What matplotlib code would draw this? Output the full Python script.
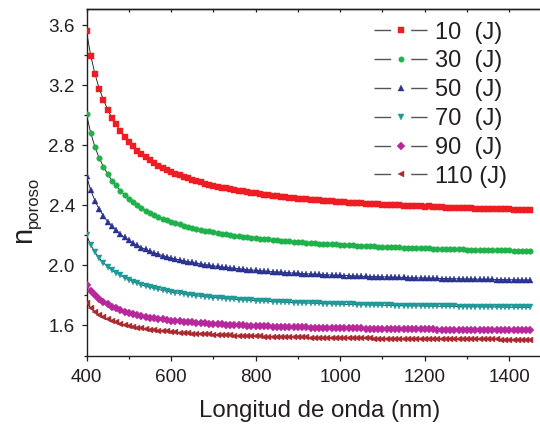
import matplotlib
matplotlib.use("Agg")
import matplotlib.pyplot as plt
from matplotlib.lines import Line2D
from matplotlib.ticker import MultipleLocator

plt.rcParams['font.family'] = ['Liberation Sans', 'DejaVu Sans']

# Wavelength grid (nm), sampled every 10 nm
wavelength = list(range(400, 1460, 10))

n_10J = [3.560, 3.398, 3.277, 3.179, 3.105, 3.039, 2.983, 2.940, 2.896, 2.857,
         2.823, 2.793, 2.766, 2.742, 2.720, 2.700, 2.682, 2.665, 2.650, 2.636,
         2.623, 2.611, 2.600, 2.589, 2.580, 2.570, 2.562, 2.554, 2.546, 2.539,
         2.532, 2.526, 2.519, 2.514, 2.508, 2.503, 2.498, 2.493, 2.489, 2.484,
         2.480, 2.476, 2.472, 2.468, 2.465, 2.462, 2.458, 2.455, 2.452, 2.449,
         2.446, 2.444, 2.441, 2.438, 2.436, 2.434, 2.431, 2.429, 2.427, 2.425,
         2.423, 2.421, 2.419, 2.417, 2.415, 2.413, 2.412, 2.410, 2.408, 2.407,
         2.405, 2.404, 2.402, 2.401, 2.400, 2.398, 2.397, 2.396, 2.394, 2.393,
         2.392, 2.397, 2.390, 2.388, 2.387, 2.386, 2.385, 2.384, 2.383, 2.382,
         2.381, 2.380, 2.379, 2.378, 2.378, 2.377, 2.376, 2.375, 2.374, 2.373,
         2.373, 2.372, 2.371, 2.370, 2.370, 2.369]

n_30J = [3.006, 2.883, 2.790, 2.715, 2.659, 2.609, 2.566, 2.533, 2.499, 2.470,
         2.444, 2.421, 2.400, 2.382, 2.365, 2.350, 2.336, 2.323, 2.312, 2.301,
         2.291, 2.282, 2.273, 2.265, 2.258, 2.251, 2.244, 2.238, 2.232, 2.227,
         2.222, 2.217, 2.212, 2.208, 2.203, 2.199, 2.196, 2.192, 2.188, 2.185,
         2.182, 2.179, 2.176, 2.173, 2.170, 2.168, 2.165, 2.163, 2.161, 2.158,
         2.156, 2.154, 2.152, 2.150, 2.148, 2.146, 2.145, 2.143, 2.141, 2.140,
         2.138, 2.137, 2.135, 2.134, 2.132, 2.131, 2.130, 2.128, 2.127, 2.126,
         2.125, 2.124, 2.123, 2.121, 2.120, 2.119, 2.118, 2.117, 2.116, 2.115,
         2.115, 2.114, 2.113, 2.112, 2.111, 2.110, 2.109, 2.109, 2.108, 2.107,
         2.106, 2.106, 2.105, 2.104, 2.104, 2.103, 2.102, 2.102, 2.101, 2.100,
         2.100, 2.099, 2.099, 2.098, 2.098, 2.097]

n_50J = [2.596, 2.501, 2.431, 2.374, 2.331, 2.292, 2.260, 2.235, 2.209, 2.187,
         2.167, 2.149, 2.134, 2.119, 2.107, 2.095, 2.085, 2.075, 2.066, 2.058,
         2.050, 2.043, 2.037, 2.031, 2.025, 2.020, 2.015, 2.010, 2.006, 2.001,
         1.997, 1.994, 1.990, 1.987, 1.984, 1.980, 1.978, 1.975, 1.972, 1.970,
         1.967, 1.965, 1.963, 1.960, 1.958, 1.956, 1.955, 1.953, 1.951, 1.949,
         1.948, 1.946, 1.944, 1.943, 1.941, 1.940, 1.939, 1.937, 1.936, 1.935,
         1.934, 1.933, 1.932, 1.930, 1.929, 1.928, 1.927, 1.926, 1.926, 1.925,
         1.924, 1.923, 1.922, 1.921, 1.920, 1.920, 1.919, 1.918, 1.917, 1.917,
         1.916, 1.915, 1.915, 1.914, 1.913, 1.913, 1.912, 1.911, 1.911, 1.910,
         1.910, 1.909, 1.909, 1.908, 1.908, 1.907, 1.907, 1.906, 1.906, 1.905,
         1.905, 1.904, 1.904, 1.903, 1.903, 1.902]

n_70J = [2.202, 2.137, 2.088, 2.048, 2.018, 1.992, 1.969, 1.952, 1.934, 1.918,
         1.904, 1.892, 1.881, 1.871, 1.862, 1.854, 1.847, 1.840, 1.834, 1.828,
         1.823, 1.818, 1.814, 1.810, 1.806, 1.802, 1.798, 1.795, 1.792, 1.789,
         1.786, 1.784, 1.781, 1.779, 1.777, 1.775, 1.773, 1.771, 1.769, 1.767,
         1.765, 1.764, 1.762, 1.761, 1.759, 1.758, 1.757, 1.755, 1.754, 1.753,
         1.752, 1.751, 1.750, 1.749, 1.748, 1.747, 1.746, 1.745, 1.744, 1.743,
         1.742, 1.741, 1.741, 1.740, 1.739, 1.738, 1.738, 1.737, 1.736, 1.736,
         1.735, 1.734, 1.734, 1.733, 1.733, 1.732, 1.732, 1.731, 1.731, 1.730,
         1.730, 1.729, 1.729, 1.728, 1.728, 1.727, 1.727, 1.727, 1.726, 1.726,
         1.725, 1.725, 1.725, 1.724, 1.724, 1.724, 1.723, 1.723, 1.723, 1.722,
         1.722, 1.722, 1.721, 1.721, 1.721, 1.720]

n_90J = [1.873, 1.832, 1.801, 1.775, 1.757, 1.740, 1.725, 1.714, 1.703, 1.693,
         1.685, 1.677, 1.670, 1.664, 1.658, 1.653, 1.648, 1.644, 1.640, 1.637,
         1.633, 1.630, 1.627, 1.625, 1.622, 1.620, 1.618, 1.616, 1.614, 1.612,
         1.610, 1.609, 1.607, 1.605, 1.604, 1.603, 1.601, 1.600, 1.599, 1.598,
         1.597, 1.596, 1.595, 1.594, 1.593, 1.592, 1.591, 1.590, 1.590, 1.589,
         1.588, 1.587, 1.587, 1.586, 1.586, 1.585, 1.584, 1.584, 1.583, 1.583,
         1.582, 1.582, 1.581, 1.581, 1.580, 1.580, 1.579, 1.579, 1.579, 1.578,
         1.578, 1.577, 1.577, 1.577, 1.576, 1.576, 1.576, 1.575, 1.575, 1.575,
         1.574, 1.574, 1.574, 1.573, 1.573, 1.573, 1.573, 1.572, 1.572, 1.572,
         1.572, 1.571, 1.571, 1.571, 1.571, 1.570, 1.570, 1.570, 1.570, 1.570,
         1.569, 1.569, 1.569, 1.569, 1.569, 1.568]

n_110J = [1.748, 1.715, 1.691, 1.671, 1.656, 1.642, 1.631, 1.622, 1.613, 1.605,
          1.598, 1.592, 1.586, 1.581, 1.577, 1.573, 1.569, 1.566, 1.563, 1.560,
          1.557, 1.555, 1.552, 1.550, 1.548, 1.546, 1.545, 1.543, 1.541, 1.540,
          1.539, 1.537, 1.536, 1.535, 1.534, 1.533, 1.532, 1.531, 1.530, 1.529,
          1.528, 1.527, 1.526, 1.526, 1.525, 1.524, 1.524, 1.523, 1.522, 1.522,
          1.521, 1.521, 1.520, 1.519, 1.519, 1.518, 1.518, 1.518, 1.517, 1.517,
          1.516, 1.516, 1.515, 1.515, 1.515, 1.514, 1.514, 1.514, 1.513, 1.513,
          1.513, 1.512, 1.512, 1.512, 1.512, 1.511, 1.511, 1.511, 1.510, 1.510,
          1.510, 1.510, 1.510, 1.509, 1.509, 1.509, 1.509, 1.508, 1.508, 1.508,
          1.508, 1.508, 1.507, 1.507, 1.507, 1.507, 1.507, 1.507, 1.506, 1.506,
          1.506, 1.506, 1.506, 1.506, 1.505, 1.505]

labels = ["10  (J)", "30  (J)", "50  (J)", "70  (J)", "90  (J)", "110 (J)"]
series = [n_10J, n_30J, n_50J, n_70J, n_90J, n_110J]
colors = ["#EE1D24", "#1FB24A", "#2B3392", "#1E9A98", "#B8289C", "#AA2A30"]
markers = ["s", "o", "^", "v", "D", "<"]
msizes = [3.7, 4.0, 4.5, 4.5, 3.6, 4.5]

ink = "#231F20"

fig = plt.figure(figsize=(5.4, 4.25), dpi=100)
W, H = 540.0, 425.0
x0, x1, ytop, ybot = 86.5, 541.0, 9.3, 355.5
ax = fig.add_axes([x0 / W, 1 - ybot / H, (x1 - x0) / W, (ybot - ytop) / H])

for vals, c, m, ms in zip(series, colors, markers, msizes):
    ax.plot(wavelength, vals, color="#111111", linewidth=0.6, zorder=2)
    ax.plot(wavelength, vals, linestyle="none", marker=m, markersize=ms,
            markerfacecolor=c, markeredgecolor=c, markeredgewidth=0.3, zorder=3)

ax.set_xlim(400, 1475)
ax.set_ylim(1.4, 3.707)
ax.xaxis.set_major_locator(MultipleLocator(200))
ax.xaxis.set_minor_locator(MultipleLocator(100))
ax.yaxis.set_major_locator(MultipleLocator(0.4))
ax.yaxis.set_minor_locator(MultipleLocator(0.2))
ax.yaxis.set_major_formatter(plt.FuncFormatter(lambda v, p: f"{v:.1f}"))

for s in ax.spines.values():
    s.set_linewidth(1.0)
    s.set_color(ink)

ax.tick_params(axis="both", which="both", direction="out", color=ink,
               width=0.9, labelcolor=ink, labelsize=13.6, top=False, right=False)
ax.tick_params(axis="both", which="major", length=3.4)
ax.tick_params(axis="both", which="minor", length=2.2)
ax.tick_params(axis="x", which="major", pad=6.0)
ax.tick_params(axis="y", which="major", pad=5.0)

# inward ticks along the top edge
top = ax.secondary_xaxis("top")
top.xaxis.set_major_locator(MultipleLocator(100))
top.tick_params(direction="in", length=2.2, width=0.9, color=ink, labeltop=False)
top.spines["top"].set_linewidth(1.0)
top.spines["top"].set_color(ink)

# axis titles
fig.text(320 / W, 1 - 416.7 / H, "Longitud de onda (nm)", fontsize=17.3,
         color=ink, ha="center", va="baseline")
fig.text(30.7 / W, 1 - 243 / H, "n", fontsize=21, color=ink, rotation=90,
         rotation_mode="anchor", ha="left", va="baseline")
fig.text(37.5 / W, 1 - 228 / H, "poroso", fontsize=12, color=ink, rotation=90,
         rotation_mode="anchor", ha="left", va="baseline")

handles = [Line2D([], [], color="#555555", linewidth=1.0, linestyle=(0, (12, 14.4)),
                  marker=m, markersize=3.9, markerfacecolor=c, markeredgecolor=c,
                  markeredgewidth=0.3)
           for c, m in zip(colors, markers)]
fig.legend(handles, labels, loc="upper left",
           bbox_to_anchor=(374 / W, 1 - 21.5 / H), bbox_transform=fig.transFigure,
           frameon=False, fontsize=17, handlelength=2.25, handletextpad=0.34,
           labelspacing=0.29, borderpad=0, borderaxespad=0, numpoints=1,
           labelcolor=ink)

fig.savefig("out.png", dpi=100)
